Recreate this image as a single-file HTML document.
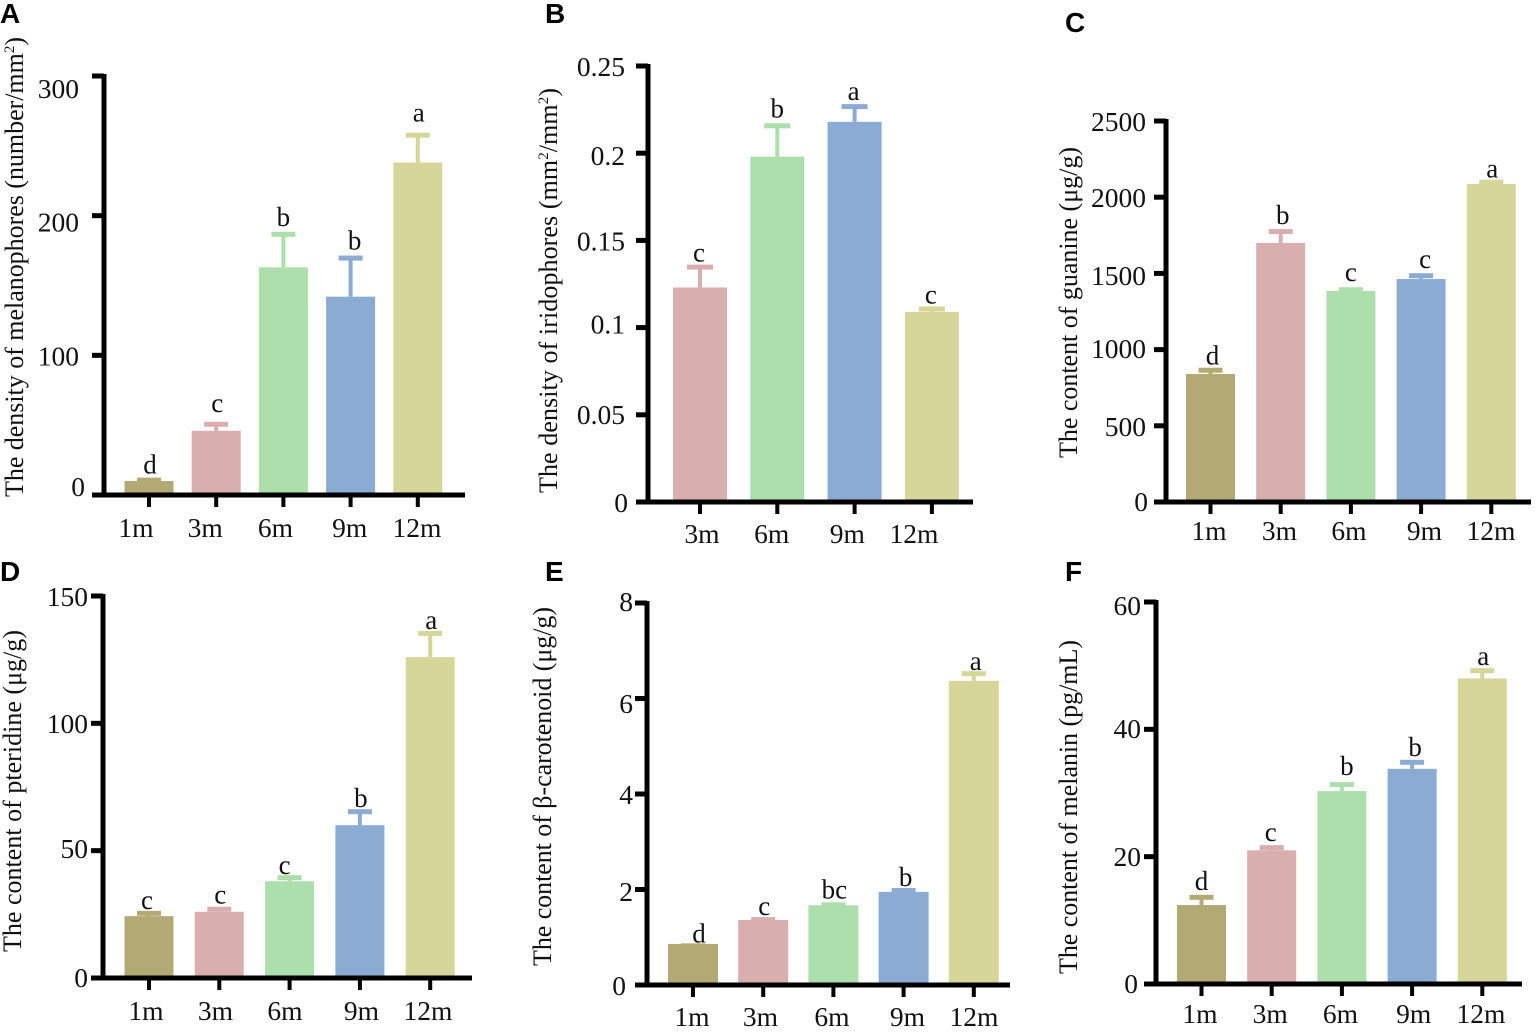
<!DOCTYPE html>
<html lang="en">
<head>
<meta charset="utf-8">
<title>Pigment cell density and pigment content bar charts</title>
<style>
html,body{margin:0;padding:0;background:#fff;}
svg{display:block;}
text{font-family:"Liberation Serif","DejaVu Serif",serif;fill:#111;}
.panel-letter{font-family:"Liberation Sans",sans-serif;font-weight:700;font-size:28px;fill:#000;}
.axis-title{font-size:26px;}
.sup{font-size:15px;}
</style>
</head>
<body>
<svg id="figure" xmlns="http://www.w3.org/2000/svg" width="1536" height="1035" viewBox="0 0 1536 1035">
  <rect width="1536" height="1035" fill="#fff"/>
  <text class="panel-letter" x="0" y="23">A</text>
  <text class="panel-letter" x="545" y="23">B</text>
  <text class="panel-letter" x="1065" y="32">C</text>
  <text class="panel-letter" x="0" y="581">D</text>
  <text class="panel-letter" x="545" y="581">E</text>
  <text class="panel-letter" x="1065" y="581">F</text>

  <text class="axis-title" transform="translate(23,497) rotate(-90)" textLength="460">The density of melanophores (number/mm<tspan class="sup" dy="-9">2</tspan><tspan dy="9">)</tspan></text>
  <text class="axis-title" transform="translate(557,493) rotate(-90)" textLength="405">The density of iridophores (mm<tspan class="sup" dy="-9">2</tspan><tspan dy="9">/mm</tspan><tspan class="sup" dy="-9">2</tspan><tspan dy="9">)</tspan></text>
  <text class="axis-title" transform="translate(1077,458) rotate(-90)" textLength="311">The content of guanine (μg/g)</text>
  <text class="axis-title" transform="translate(21,952) rotate(-90)" textLength="322">The content of pteridine (μg/g)</text>
  <text class="axis-title" transform="translate(551,966) rotate(-90)" textLength="359">The content of β-carotenoid (μg/g)</text>
  <text class="axis-title" transform="translate(1077,974) rotate(-90)" textLength="334">The content of melanin (pg/mL)</text>
</svg>
<script>
// ---- Data: panel A, melanophore density ----
const aCategories = ['1m', '3m', '6m', '9m', '12m'];
const aValues = [10, 46, 163, 142, 238];
const aErrorTops = [11, 51, 187, 170, 258];
const aLetters = ['d', 'c', 'b', 'b', 'a'];
const aTicks = [0, 100, 200, 300];
const aTickLabels = ['0', '100', '200', '300'];

// ---- Data: panel B, iridophore density ----
const bCategories = ['3m', '6m', '9m', '12m'];
const bValues = [0.123, 0.198, 0.218, 0.109];
const bErrorTops = [0.135, 0.216, 0.227, 0.111];
const bLetters = ['c', 'b', 'a', 'c'];
const bTicks = [0, 0.05, 0.1, 0.15, 0.2, 0.25];
const bTickLabels = ['0', '0.05', '0.1', '0.15', '0.2', '0.25'];

// ---- Data: panel C, guanine content ----
const cCategories = ['1m', '3m', '6m', '9m', '12m'];
const cValues = [840, 1700, 1385, 1463, 2087];
const cErrorTops = [868, 1778, 1396, 1488, 2102];
const cLetters = ['d', 'b', 'c', 'c', 'a'];
const cTicks = [0, 500, 1000, 1500, 2000, 2500];
const cTickLabels = ['0', '500', '1000', '1500', '2000', '2500'];

// ---- Data: panel D, pteridine content ----
const dCategories = ['1m', '3m', '6m', '9m', '12m'];
const dValues = [24.3, 26, 38, 60, 126];
const dErrorTops = [25.6, 27.2, 39.6, 65.5, 135.5];
const dLetters = ['c', 'c', 'c', 'b', 'a'];
const dTicks = [0, 50, 100, 150];
const dTickLabels = ['0', '50', '100', '150'];

// ---- Data: panel E, beta-carotenoid content ----
const eCategories = ['1m', '3m', '6m', '9m', '12m'];
const eValues = [0.86, 1.36, 1.67, 1.95, 6.37];
const eErrorTops = [0.83, 1.38, 1.69, 1.99, 6.53];
const eLetters = ['d', 'c', 'bc', 'b', 'a'];
const eTicks = [0, 2, 4, 6, 8];
const eTickLabels = ['0', '2', '4', '6', '8'];

// ---- Data: panel F, melanin content ----
const fCategories = ['1m', '3m', '6m', '9m', '12m'];
const fValues = [12.4, 21, 30.3, 33.8, 48];
const fErrorTops = [13.7, 21.5, 31.4, 34.9, 49.3];
const fLetters = ['d', 'c', 'b', 'b', 'a'];
const fTicks = [0, 20, 40, 60];
const fTickLabels = ['0', '20', '40', '60'];

// ---- Styling and layout (not data) ----
const categoryColors = {'1m':'#b3a974','3m':'#d9aeae','6m':'#addfac','9m':'#8babd3','12m':'#d6d69a'};
const SVG_NS = 'http://www.w3.org/2000/svg';
const figure = document.getElementById('figure');

function shape(parent, tag, attrs) {
  const el = document.createElementNS(SVG_NS, tag);
  for (const k in attrs) el.setAttribute(k, attrs[k]);
  parent.appendChild(el);
  return el;
}

function drawPanel(id, d, f) {
  const g = shape(figure, 'g', {});
  
  

  const maxTick = Math.max.apply(null, d.ticks);
  const minTick = 0;
  const yScale = v => f.y0 - (v - minTick) / (maxTick - minTick) * (f.y0 - f.yTop);
  const yLabelScale = v => f.labelY0 - (v - minTick) / (maxTick - minTick) * (f.labelY0 - f.labelYTop);
  const xScale = i => f.firstCenter + f.step * i;
  const last = d.categories.length - 1;
  const xLabelScale = i => f.labelX0 + (f.labelX1 - f.labelX0) * i / last;

  d.categories.forEach((cat, i) => {
    const cx = xScale(i);
    const color = categoryColors[cat];
    const top = yScale(d.values[i]);
    const errTop = yScale(d.errorTops[i]);

    const stem = shape(g, 'rect', {x: cx - 2, y: errTop, width: 4, height: Math.max(0, top - errTop), fill: color});
    
    

    const cap = shape(g, 'rect', {x: cx - f.capWidth / 2, y: errTop - 2, width: f.capWidth, height: 5, fill: color});
    
    

    const bar = shape(g, 'rect', {x: cx - f.barWidth / 2, y: top, width: f.barWidth, height: f.y0 - top, fill: color});
    
    

    const letter = shape(g, 'text', {x: cx + f.letterDx[i], y: errTop - 8 + f.letterDy[i], 'text-anchor': 'middle', 'font-size': 27});
    letter.textContent = d.letters[i];
    
    

    const tick = shape(g, 'rect', {x: cx - 2, y: f.y0, width: 4, height: 12, fill: '#000'});
    
    

    const label = shape(g, 'text', {x: xLabelScale(i) + f.xLabelDx[i], y: f.y0 + f.xLabelDrop, 'text-anchor': 'middle', 'font-size': 27.5});
    label.textContent = cat;
    
    
  });

  const yAxis = shape(g, 'rect', {x: f.yAxisX - 2.5, y: f.yTop - 2, width: 5, height: f.y0 - f.yTop + 4, fill: '#000'});
  
  

  const xAxis = shape(g, 'rect', {x: f.yAxisX - 9, y: f.y0 - 2.5, width: f.xEnd - f.yAxisX + 9, height: 5, fill: '#000'});
  
  

  d.ticks.forEach((t, i) => {
    const tick = shape(g, 'rect', {x: f.yAxisX - 12, y: yScale(t) - 2.5, width: 12, height: 5, fill: '#000'});
    
    

    const label = shape(g, 'text', {x: t === 0 ? f.zeroRight : f.labelRight, y: yLabelScale(t) + 9 + f.yLabelDy[i], 'text-anchor': 'end', 'font-size': 27.5});
    label.textContent = d.tickLabels[i];
    
    
  });
}

drawPanel('a',
  {categories: aCategories, values: aValues, errorTops: aErrorTops, letters: aLetters, ticks: aTicks, tickLabels: aTickLabels},
  {yAxisX: 104, xEnd: 465, y0: 495, yTop: 76, firstCenter: 149, step: 67.2, barWidth: 49, capWidth: 24, labelX0: 136, labelX1: 417, labelY0: 487, labelYTop: 89, labelRight: 79, zeroRight: 85, xLabelDrop: 42,
   letterDx: [1, 1, 0, 4, 1], letterDy: [2, -4, 0, 0, -5], xLabelDx: [0, -1, -1, 3, 0], yLabelDy: [0, 2, 1, 0]});

drawPanel('b',
  {categories: bCategories, values: bValues, errorTops: bErrorTops, letters: bLetters, ticks: bTicks, tickLabels: bTickLabels},
  {yAxisX: 648, xEnd: 973, y0: 502, yTop: 66, firstCenter: 700, step: 77.3, barWidth: 54, capWidth: 26, labelX0: 702, labelX1: 914, labelY0: 503, labelYTop: 67, labelRight: 625, zeroRight: 628, xLabelDrop: 41,
   letterDx: [-1, 0, -1, -1], letterDy: [3, 0, 2, 3], xLabelDx: [0, -1, 4, 0], yLabelDy: [0, -1, -4, 0, 2, 0]});

drawPanel('c',
  {categories: cCategories, values: cValues, errorTops: cErrorTops, letters: cLetters, ticks: cTicks, tickLabels: cTickLabels},
  {yAxisX: 1166, xEnd: 1531, y0: 502, yTop: 121, firstCenter: 1210.5, step: 70.2, barWidth: 49, capWidth: 24, labelX0: 1209, labelX1: 1491, labelY0: 502, labelYTop: 122, labelRight: 1146, zeroRight: 1148, xLabelDrop: 38,
   letterDx: [2, 2, 0, 4, 1], letterDy: [3, 1, 0, 1, 4], xLabelDx: [0, 0, -1, 4, 0], yLabelDy: [0, 1, -1, 2, 0, 0]});

drawPanel('d',
  {categories: dCategories, values: dValues, errorTops: dErrorTops, letters: dLetters, ticks: dTicks, tickLabels: dTickLabels},
  {yAxisX: 103, xEnd: 472, y0: 978, yTop: 596, firstCenter: 149, step: 70.3, barWidth: 49, capWidth: 24, labelX0: 146, labelX1: 428, labelY0: 978, labelYTop: 597, labelRight: 88, zeroRight: 88, xLabelDrop: 42,
   letterDx: [-2, 1, -5, 1, 1], letterDy: [4, 3, 5, 4, 4], xLabelDx: [0, -1, -2, 4, 0], yLabelDy: [0, -2, 0, 0]});

drawPanel('e',
  {categories: eCategories, values: eValues, errorTops: eErrorTops, letters: eLetters, ticks: eTicks, tickLabels: eTickLabels},
  {yAxisX: 647, xEnd: 1010, y0: 985, yTop: 603, firstCenter: 693, step: 70.2, barWidth: 50, capWidth: 24, labelX0: 692, labelX1: 974, labelY0: 986, labelYTop: 602, labelRight: 633, zeroRight: 626, xLabelDrop: 41,
   letterDx: [6, 1, 1, 2, 2], letterDy: [5, 4, 2, 4, 5], xLabelDx: [0, -2, -1, 4, 0], yLabelDy: [0, 2, 1, 6, 0]});

drawPanel('f',
  {categories: fCategories, values: fValues, errorTops: fErrorTops, letters: fLetters, ticks: fTicks, tickLabels: fTickLabels},
  {yAxisX: 1156, xEnd: 1522, y0: 984, yTop: 602, firstCenter: 1201.5, step: 70.2, barWidth: 49, capWidth: 24, labelX0: 1200, labelX1: 1481, labelY0: 984, labelYTop: 606, labelRight: 1141, zeroRight: 1138, xLabelDrop: 39,
   letterDx: [0, -1, 5, 3, 1], letterDy: [1, 2, -1, 2, 3], xLabelDx: [0, 0, 0, 3, 0], yLabelDy: [0, -1, -3, 0]});
</script>
</body>
</html>
